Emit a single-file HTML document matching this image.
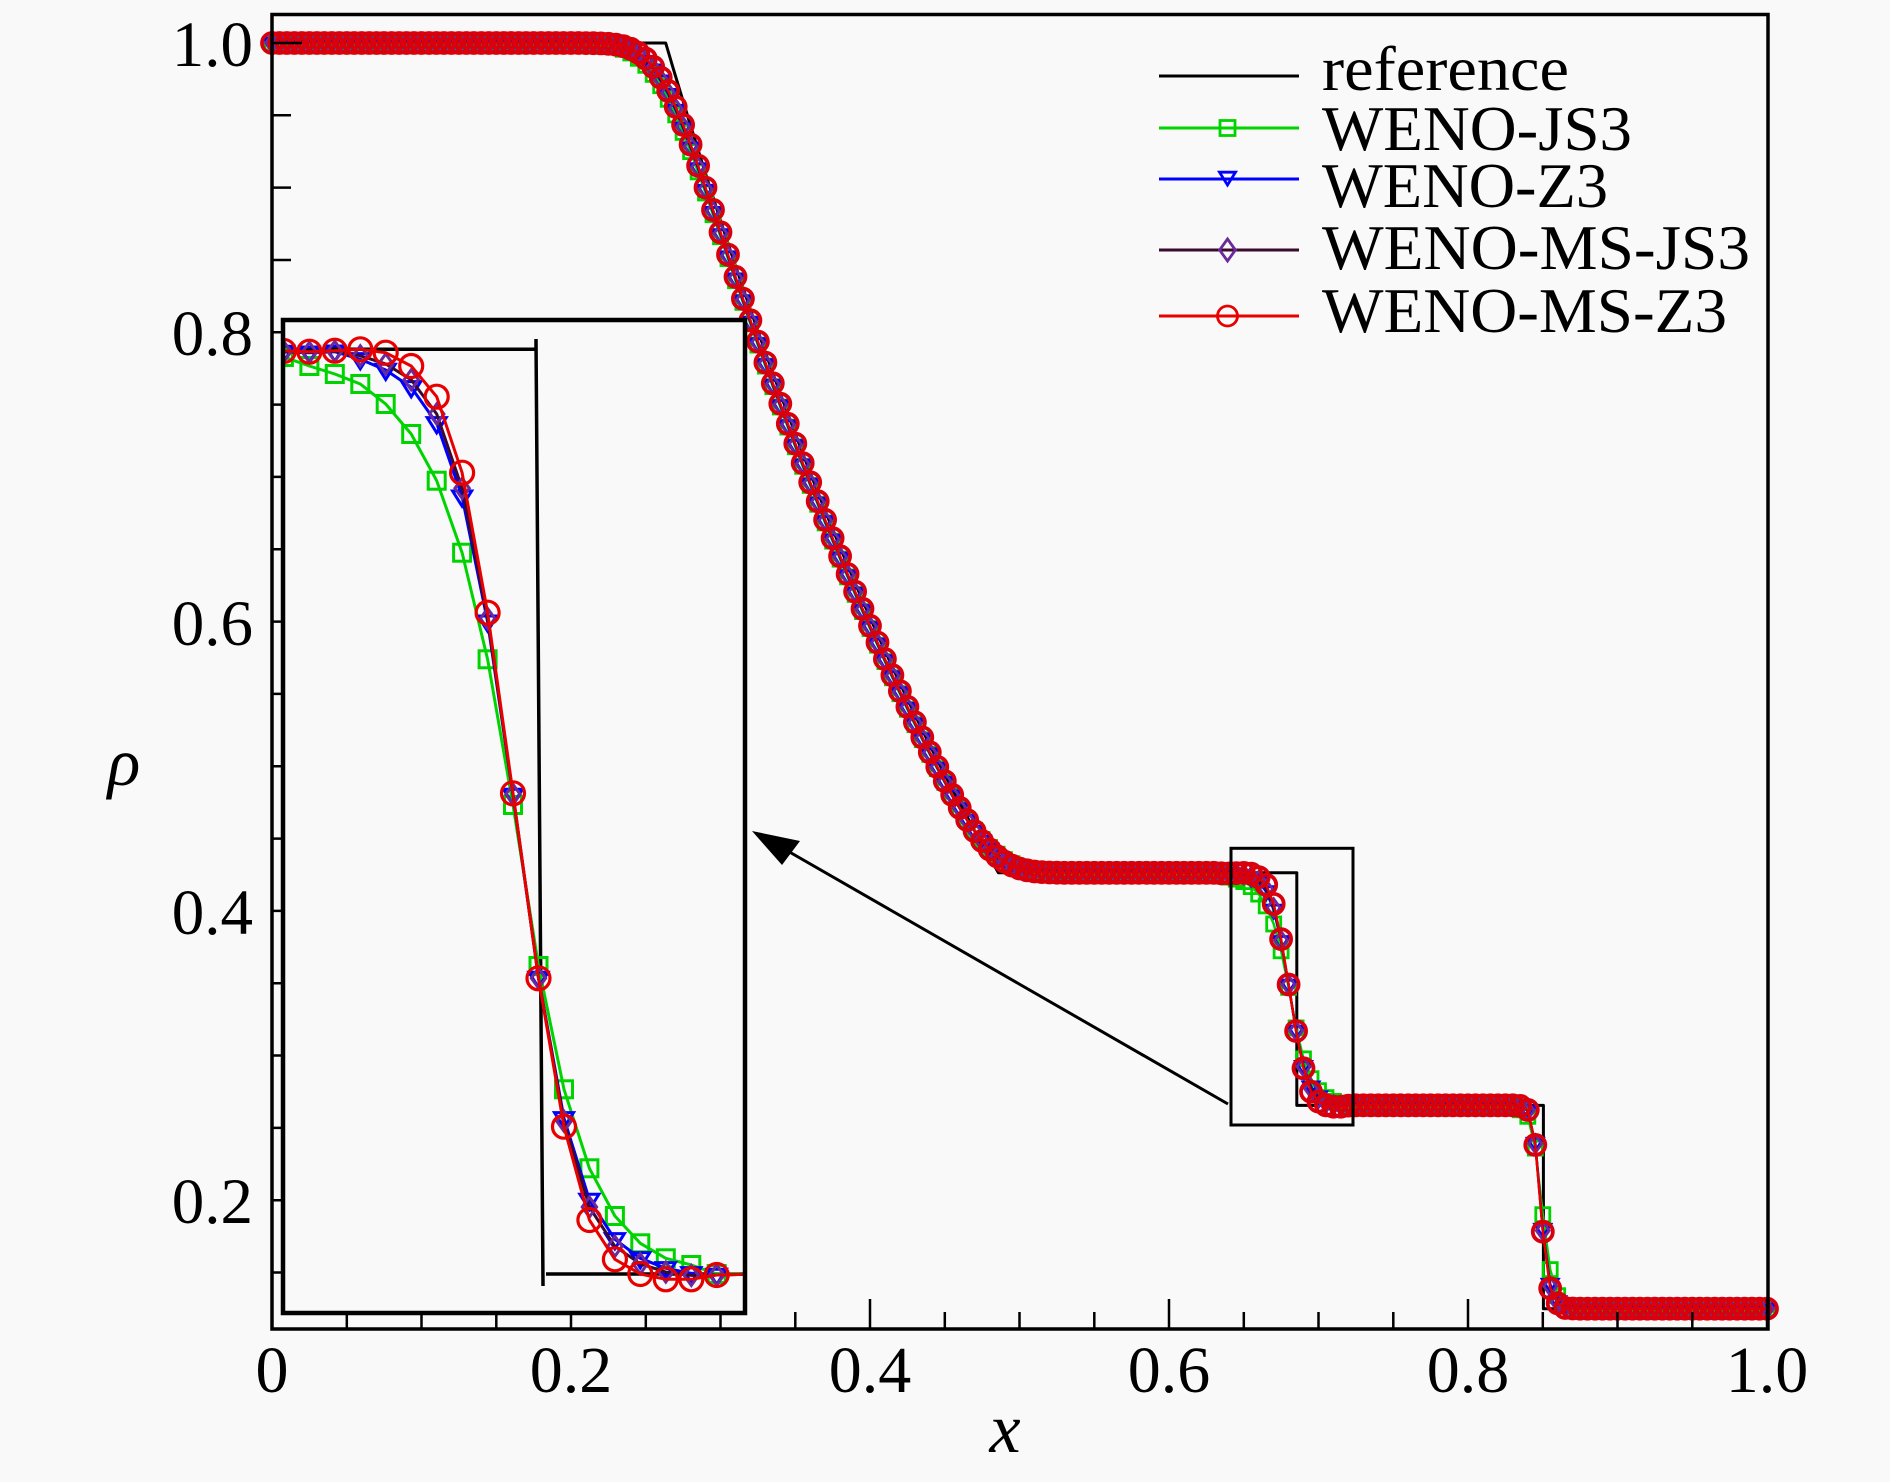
<!DOCTYPE html>
<html><head><meta charset="utf-8">
<style>
html,body{margin:0;padding:0;background:#f9f9f9;}
svg{display:block;}
text{font-family:"Liberation Serif","Times New Roman",Times,serif;fill:#000;}
</style>
</head><body>
<svg id="s" width="1890" height="1482" viewBox="0 0 1890 1482" xmlns="http://www.w3.org/2000/svg" font-family="'Liberation Serif','Times New Roman',Times,serif">
<rect width="1890" height="1482" fill="#f9f9f9"/>
<g id="main"></g>
<g id="ticks" stroke="#000" stroke-width="2.5"></g>
<rect x="272" y="14.5" width="1496" height="1314.5" fill="none" stroke="#000" stroke-width="3.5"/>
<defs><clipPath id="ic"><rect x="285" y="322" width="458" height="989"/></clipPath></defs>
<rect x="283" y="320" width="462" height="993" fill="#f9f9f9" stroke="none"/>
<g id="inset" clip-path="url(#ic)"></g>
<rect x="283" y="320" width="462" height="993" fill="none" stroke="#000" stroke-width="4.5"/>
<rect x="1231" y="848.3" width="122" height="276.7" fill="none" stroke="#000" stroke-width="3"/>
<line x1="1228" y1="1104" x2="786" y2="850" stroke="#000" stroke-width="3"/>
<polygon points="752,831 800,841 782,865" fill="#000"/>

<g font-size="65" text-anchor="end">
<text x="253" y="66">1.0</text>
<text x="253" y="355">0.8</text>
<text x="253" y="645">0.6</text>
<text x="253" y="934">0.4</text>
<text x="253" y="1223">0.2</text>
</g>
<g font-size="66" text-anchor="middle">
<text x="272" y="1392">0</text>
<text x="571" y="1392">0.2</text>
<text x="870" y="1392">0.4</text>
<text x="1169" y="1392">0.6</text>
<text x="1468" y="1392">0.8</text>
<text x="1767" y="1392">1.0</text>
</g>
<text x="1005" y="1452" font-size="70" font-style="italic" text-anchor="middle">x</text>
<text x="124" y="785" font-size="68" font-style="italic" text-anchor="middle">ρ</text>

<g id="legend"></g>
<g font-size="64">
<text x="1322" y="90" textLength="247" lengthAdjust="spacingAndGlyphs">reference</text>
<text x="1322" y="150" textLength="310" lengthAdjust="spacingAndGlyphs">WENO-JS3</text>
<text x="1322" y="207" textLength="286" lengthAdjust="spacingAndGlyphs">WENO-Z3</text>
<text x="1322" y="269" textLength="428" lengthAdjust="spacingAndGlyphs">WENO-MS-JS3</text>
<text x="1322" y="332" textLength="405" lengthAdjust="spacingAndGlyphs">WENO-MS-Z3</text>
</g>
</svg>
<script>
(function(){
const X=v=>272+v*1495, Y=v=>43+(1-v)*1446.5;
function f(n){return n.toFixed(1);}
function exR(x){const xi=(x-0.5)/0.2; if(xi<=-1.183216)return 1; if(xi>=-0.070711)return 0.426319; return Math.pow(0.833333-0.140859*xi,5);}
function conv(x,s){let a=0,w=0;for(let t=-4;t<=4.001;t+=0.05){const k=Math.exp(-t*t/2);a+=k*exR(x+t*s);w+=k;}return a/w;}
const cR=[351,351.7,350.7,349.3,352.7,366,396.7,472.7,612.7,793.3,978.3,1126.7,1220,1259.3,1274,1279.3,1279.3,1275];
const cB=[352,352.7,351.7,359.3,370,387.3,423.3,496.7,621.7,795,978,1118.3,1200,1239.3,1258.3,1268.3,1273.3,1275];
const cG=[357,366,374,384,404,434,480.7,552.7,659.3,805,966,1089.3,1168.3,1216,1243.3,1258.3,1265,1274];
const cD=cB.map((b,i)=>b*0.65+cR[i]*0.35);
const sR=[0.2656,0.2652,0.2624,0.2382,0.1782,0.1391,0.1287,0.1255,0.1251];
const sB=[0.2656,0.2650,0.2618,0.2395,0.1800,0.1420,0.1300,0.1262,0.1252];
const sD=[0.2656,0.2651,0.2620,0.2390,0.1790,0.1405,0.1295,0.1258,0.1251];
const sG=[0.2650,0.2625,0.2580,0.2360,0.1900,0.1520,0.1340,0.1270,0.1255];
function ser(s,sh0,c,sh){const v=[];for(let i=0;i<=200;i++){const x=i/200;let r;
 if(i<127) r=conv(x+sh0,s);
 else if(i<=144) r=0.4263-(c[i-127]-349.3)/5754;
 else if(i<166) r=0.2656;
 else if(i<166+sh.length) r=sh[i-166];
 else r=0.125;
 v.push([X(x),Y(r)]);}return v;}
function circ(x,y,r,c,w){return '<circle cx="'+f(x)+'" cy="'+f(y)+'" r="'+r+'" fill="none" stroke="'+c+'" stroke-width="'+w+'"/>';}
function sq(x,y,h,c,w){return '<rect x="'+f(x-h)+'" y="'+f(y-h)+'" width="'+(2*h)+'" height="'+(2*h)+'" fill="none" stroke="'+c+'" stroke-width="'+w+'"/>';}
function tri(x,y,h,c,w){return '<polygon points="'+f(x-h)+','+f(y-0.6*h)+' '+f(x+h)+','+f(y-0.6*h)+' '+f(x)+','+f(y+h)+'" fill="none" stroke="'+c+'" stroke-width="'+w+'" stroke-linejoin="miter"/>';}
function dia(x,y,h,c,w){return '<polygon points="'+f(x)+','+f(y-h)+' '+f(x+0.72*h)+','+f(y)+' '+f(x)+','+f(y+h)+' '+f(x-0.72*h)+','+f(y)+'" fill="none" stroke="'+c+'" stroke-width="'+w+'"/>';}
function line(p,c,w){return '<polyline points="'+p.map(q=>f(q[0])+','+f(q[1])).join(' ')+'" fill="none" stroke="'+c+'" stroke-width="'+w+'" stroke-linejoin="round"/>';}
const G='#00d400',B='#0000ff',DL='#3a0a30',DM='#6a2a9a',R='#e80000',RM='#d8000c';
let m='';
let rp=[[X(0),Y(1)],[X(0.263357),Y(1)]];
for(let j=1;j<=40;j++){const x=0.263357+(0.485859-0.263357)*j/40; rp.push([X(x),Y(exR(x))]);}
rp.push([X(0.68549),Y(0.42632)],[X(0.68549),Y(0.26557)],[X(0.85043),Y(0.26557)],[X(0.85043),Y(0.125)],[X(1),Y(0.125)]);
m+=line(rp,'#000',3);
const g=ser(0.021,0.004,cG,sG), b=ser(0.019,0.0035,cB,sB), d=ser(0.0185,0.0033,cD,sD), r=ser(0.018,0.003,cR,sR);
m+=line(g,G,2.5); g.forEach(p=>m+=sq(p[0],p[1],7,G,2.8));
m+=line(b,B,2.5); b.forEach(p=>m+=tri(p[0],p[1],8,B,2.8));
m+=line(d,DL,2.5); d.forEach(p=>m+=dia(p[0],p[1],9,DM,2.8));
m+=line(r,R,2.5); r.forEach(p=>m+=circ(p[0],p[1],10,RM,3.8));
document.getElementById('main').innerHTML=m;
let t='';
for(let k=0;k<=20;k++){const v=k*0.05,x=X(v);const maj=(k%4===0);
 t+='<line x1="'+f(x)+'" y1="1329" x2="'+f(x)+'" y2="'+(maj?1299:1312)+'"/>';}
for(let k=3;k<=20;k++){const v=k*0.05,y=Y(v);const maj=(k%4===0);
 t+='<line x1="272" y1="'+f(y)+'" x2="'+(maj?302:291)+'" y2="'+f(y)+'"/>';}
document.getElementById('ticks').innerHTML=t;
const IX=k=>283.9+25.46*k;
function ip(c){const p=[[IX(-1),c[0]-1]];c.forEach((y,k)=>p.push([IX(k),y]));p.push([760,1274]);return p;}
let s='';
s+='<path d="M283,349.3 H536 V339 L543,1286 M546,1274 H745" fill="none" stroke="#000" stroke-width="3.5"/>';
s+=line(ip(cG),G,3); cG.forEach((y,k)=>s+=sq(IX(k),y,8.5,G,3));
s+=line(ip(cB),B,3); cB.forEach((y,k)=>s+=tri(IX(k),y,9.5,B,3));
s+=line(ip(cD),DL,3); cD.forEach((y,k)=>s+=dia(IX(k),y,10,DM,3));
s+=line(ip(cR),R,3); cR.forEach((y,k)=>s+=circ(IX(k),y,11.5,R,3.2));
document.getElementById('inset').innerHTML=s;
let l='';
l+='<line x1="1159" y1="76" x2="1299" y2="76" stroke="#000" stroke-width="3"/>';
l+='<line x1="1159" y1="128" x2="1299" y2="128" stroke="'+G+'" stroke-width="3"/>'+sq(1227.5,128,7.5,G,2.8);
l+='<line x1="1159" y1="179" x2="1299" y2="179" stroke="'+B+'" stroke-width="3"/>'+tri(1227.5,177,8,B,2.8);
l+='<line x1="1159" y1="250" x2="1299" y2="250" stroke="'+DL+'" stroke-width="3"/>'+dia(1227.5,250,11,DM,2.8);
l+='<line x1="1159" y1="316" x2="1299" y2="316" stroke="'+R+'" stroke-width="3"/>'+circ(1227.5,316,10,R,2.8);
document.getElementById('legend').innerHTML=l;
})();
</script>
</body></html>
